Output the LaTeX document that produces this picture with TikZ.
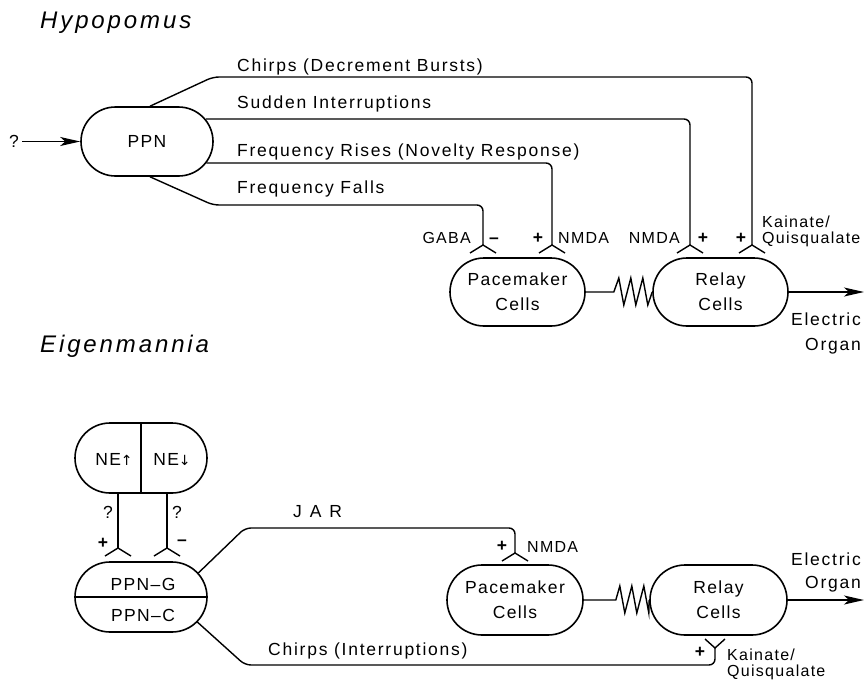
\documentclass[tikz,border=0pt]{standalone}
\usepackage{fontspec}
\setmainfont{Liberation Sans}
\newfontfamily\labfont[LetterSpace=8]{Liberation Sans}
\newfontfamily\widefont[LetterSpace=10]{Liberation Sans}
\newfontfamily\ttlfont[LetterSpace=12]{Liberation Sans}
\newfontfamily\arrowfont{DejaVu Sans}
\newcommand\lab{\labfont\fontsize{17.5}{25}\selectfont}
\newcommand\wid{\widefont\fontsize{17.5}{25}\selectfont}
\newcommand\sml{\labfont\fontsize{16}{18}\selectfont}
\newcommand\pls{\labfont\bfseries\fontsize{17.5}{18}\selectfont}
\newcommand\ttl{\ttlfont\itshape\fontsize{24}{28}\selectfont}
\usetikzlibrary{arrows.meta,shapes.misc}
\tikzset{
  cell/.style={draw, line width=1.6pt, rounded rectangle, minimum width=132pt,
    minimum height=69pt, inner sep=0pt, align=center, font=\lab},
  conn/.style={line width=1.4pt, rounded corners=6pt},
  lbl/.style={inner sep=0pt, anchor=base west, font=\wid},
  txt/.style={inner sep=0pt, anchor=base, font=\lab},
  sml/.style={inner sep=0pt, anchor=base, font=\sml},
  plus/.style={inner sep=0pt, anchor=base, font=\pls},
  ttl/.style={inner sep=0pt, anchor=base west, font=\ttl},
  tip/.style={-{Stealth[length=20pt,width=9pt,inset=5pt]}},
  syn/.pic={\draw[line width=1.4pt] (-13,8) -- (0,0) -- (13,8);},
  synup/.pic={\draw[line width=1.4pt] (-10,-9) -- (0,0) -- (10,-9);},
}
\begin{document}
\begin{tikzpicture}[x=1pt,y=-1pt]
\useasboundingbox (0,0) rectangle (864,680);

% ---------------- Hypopomus ----------------
\node[ttl] (t1) at (40,28) {Hypopomus};

\node[cell] (ppn) at (147,141.5) {PPN};
\node[cell, minimum width=135pt, minimum height=68pt] (pm1) at (517.5,292) {Pacemaker\\Cells};
\node[cell, minimum width=135pt, minimum height=68pt] (rl1) at (720.5,292) {Relay\\Cells};

\node[txt, inner sep=3pt, anchor=center] (q1) at (14,141.5) {?};
\draw[line width=1.4pt, tip] (q1.east) -- (ppn.west);

\coordinate (sA) at (483,245);
\coordinate (sB) at (552,245);
\coordinate (sC) at (690,245);
\coordinate (sD) at (752,245);

\draw[conn] ([xshift=3pt]ppn.north) -- (213,77) -| (sD);
\draw[conn] ([shift={(-8,-22.5)}]ppn.east) -| (sC);
\draw[conn] ([shift={(-7.5,21.5)}]ppn.east) -| (sB);
\draw[conn] ([xshift=3pt]ppn.south) -- (213,205) -| (sA);
\pic at (sA) {syn};
\pic at (sB) {syn};
\pic at (sC) {syn};
\pic at (sD) {syn};

\node[lbl] (l1) at (237,71) {Chirps (Decrement Bursts)};
\node[lbl] (l2) at (237,108) {Sudden Interruptions};
\node[lbl] (l3) at (237,156) {Frequency Rises (Novelty Response)};
\node[lbl] (l4) at (237,193) {Frequency Falls};

\node[sml, anchor=base east] (g1) at (471,243) {GABA};
\node[plus] (m1) at (494,243) {\textendash};
\node[plus] (p1) at (538,243) {+};
\node[sml, anchor=base west] (n1) at (558,243) {NMDA};
\node[sml, anchor=base east] (n2) at (680,243) {NMDA};
\node[plus] (p2) at (703,243) {+};
\node[plus] (p3) at (741,243) {+};
\node[sml, anchor=base west] (k1) at (762,227) {Kainate/};
\node[sml, anchor=base west] (k2) at (762,243) {Quisqualate};

\draw[line width=1.4pt] (pm1.east) -- ++(28,0) -- ++(5,-14) -- ++(5,27) -- ++(7,-27)
  -- ++(5,27) -- ++(7,-27) -- ++(5,27) -- (rl1.west);
\coordinate (eo1) at (864,292);
\draw[line width=1.6pt, tip] (rl1.east) -- (eo1);
\node[lbl, anchor=base east] (e1) at (861,325) {Electric};
\node[lbl, anchor=base east] (o1) at (861,350) {Organ};

% ---------------- Eigenmannia ----------------
\node[ttl] (t2) at (40,352) {Eigenmannia};

\node[cell, minimum height=70pt] (ne) at (141,458) {};
\draw[line width=1.4pt] (ne.north) -- (ne.south);
\node[txt] (neu) at (114,465) {NE{\arrowfont\fontsize{14}{14}\selectfont ↑}};
\node[txt] (ned) at (172,465) {NE{\arrowfont\fontsize{14}{14}\selectfont ↓}};

\node[cell, minimum height=70pt] (ppng) at (141,597) {};
\draw[line width=1.4pt] (ppng.west) -- (ppng.east);
\node[txt] (pg) at (143,590) {PPN\textendash G};
\node[txt] (pc) at (143,621) {PPN\textendash C};

\coordinate (sE) at (118,548);
\coordinate (sF) at (167,548);
\draw[conn] ([xshift=-23pt]ne.south) -- (sE);
\draw[conn] ([xshift=26pt]ne.south) -- (sF);
\pic at (sE) {syn};
\pic at (sF) {syn};
\node[txt, anchor=center] (qa) at (108,512) {?};
\node[txt, anchor=center] (qb) at (177,512) {?};
\node[plus, anchor=center] (pa) at (103,543) {+};
\node[plus, anchor=center] (ma) at (182,543) {\textendash};

\node[cell, minimum width=136pt, minimum height=70pt] (pm2) at (515,600) {Pacemaker\\Cells};
\node[cell, minimum width=137pt, minimum height=70pt] (rl2) at (718.5,600) {Relay\\Cells};

\coordinate (sG) at (515,553);
\draw[conn] ([shift={(-9.5,-24)}]ppng.east) -- (245,528) -| (sG);
\pic at (sG) {syn};
\node[lbl] (jar) at (293,517) {J\hspace{0.45em}A\hspace{0.45em}R};
\node[plus] (p4) at (502,551) {+};
\node[sml, anchor=base west] (n3) at (527,552) {NMDA};

\draw[line width=1.4pt] (pm2.east) -- ++(32,0) -- ++(4,-14) -- ++(5,27) -- ++(7,-27)
  -- ++(5,27) -- ++(7,-27) -- ++(5,27) -- (rl2.west);
\coordinate (eo2) at (864,600);
\draw[line width=1.6pt, tip] (rl2.east) -- (eo2);
\node[lbl, anchor=base east] (e2) at (861,565) {Electric};
\node[lbl, anchor=base east] (o2) at (861,588) {Organ};

\coordinate (sH) at (715,648);
\draw[conn] ([shift={(-10.5,25)}]ppng.east) -- (245,665) -| (sH);
\pic at (sH) {synup};
\node[lbl] (l5) at (268,655) {Chirps (Interruptions)};
\node[plus] (p5) at (700,657) {+};
\node[sml, anchor=base west] (k3) at (727,660) {Kainate/};
\node[sml, anchor=base west] (k4) at (727,676) {Quisqualate};
\end{tikzpicture}
\end{document}
